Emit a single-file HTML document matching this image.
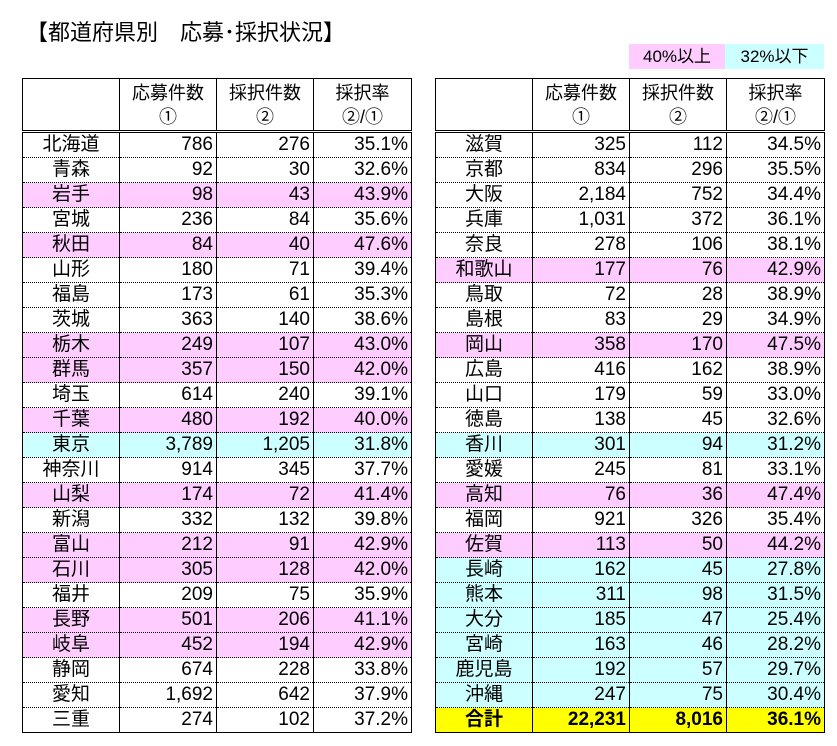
<!DOCTYPE html>
<html><head><meta charset="utf-8"><style>
body{margin:0;width:837px;height:746px;background:#fff;position:relative;font-family:"Liberation Sans","Noto Sans CJK JP",sans-serif;color:#000;overflow:hidden}
.title{position:absolute;left:26px;top:15px;font-size:22px;letter-spacing:0px}
.lg{position:absolute;top:44px;height:25px;line-height:25px;font-size:17px;text-align:center}
table{position:absolute;top:78px;border-collapse:collapse;table-layout:fixed;font-size:19px}
td{height:24px;padding:0 3px 0 0;border-left:1.5px solid #000;border-right:1.5px solid #000;border-bottom:1px dotted #000;text-align:right;line-height:24px;white-space:nowrap}
td:first-child{text-align:center;padding:0}
th{font-weight:normal;height:49px;border:1.5px solid #000;border-bottom:3px double #000;line-height:24px;font-size:18px;padding-top:1px}
tr:last-child td{border-bottom:1.5px solid #000}
.p td{background:#ffccff}.c td{background:#ccffff}.y td{background:#ffff00;font-weight:bold}
</style></head><body>
<div class="title">【都道府県別　応募･採択状況】</div>
<div class="lg" style="left:629px;width:96px;background:#ffccff">40%以上</div>
<div class="lg" style="left:725px;width:99px;background:#ccffff">32%以下</div>
<table style="left:22px;width:389px"><colgroup><col style="width:97px"><col style="width:97px"><col style="width:97px"><col style="width:98px"></colgroup>
<tr><th></th><th>応募件数<br>①</th><th>採択件数<br>②</th><th>採択率<br>②/①</th></tr>
<tr><td>北海道</td><td>786</td><td>276</td><td>35.1%</td></tr>
<tr><td>青森</td><td>92</td><td>30</td><td>32.6%</td></tr>
<tr class="p"><td>岩手</td><td>98</td><td>43</td><td>43.9%</td></tr>
<tr><td>宮城</td><td>236</td><td>84</td><td>35.6%</td></tr>
<tr class="p"><td>秋田</td><td>84</td><td>40</td><td>47.6%</td></tr>
<tr><td>山形</td><td>180</td><td>71</td><td>39.4%</td></tr>
<tr><td>福島</td><td>173</td><td>61</td><td>35.3%</td></tr>
<tr><td>茨城</td><td>363</td><td>140</td><td>38.6%</td></tr>
<tr class="p"><td>栃木</td><td>249</td><td>107</td><td>43.0%</td></tr>
<tr class="p"><td>群馬</td><td>357</td><td>150</td><td>42.0%</td></tr>
<tr><td>埼玉</td><td>614</td><td>240</td><td>39.1%</td></tr>
<tr class="p"><td>千葉</td><td>480</td><td>192</td><td>40.0%</td></tr>
<tr class="c"><td>東京</td><td>3,789</td><td>1,205</td><td>31.8%</td></tr>
<tr><td>神奈川</td><td>914</td><td>345</td><td>37.7%</td></tr>
<tr class="p"><td>山梨</td><td>174</td><td>72</td><td>41.4%</td></tr>
<tr><td>新潟</td><td>332</td><td>132</td><td>39.8%</td></tr>
<tr class="p"><td>富山</td><td>212</td><td>91</td><td>42.9%</td></tr>
<tr class="p"><td>石川</td><td>305</td><td>128</td><td>42.0%</td></tr>
<tr><td>福井</td><td>209</td><td>75</td><td>35.9%</td></tr>
<tr class="p"><td>長野</td><td>501</td><td>206</td><td>41.1%</td></tr>
<tr class="p"><td>岐阜</td><td>452</td><td>194</td><td>42.9%</td></tr>
<tr><td>静岡</td><td>674</td><td>228</td><td>33.8%</td></tr>
<tr><td>愛知</td><td>1,692</td><td>642</td><td>37.9%</td></tr>
<tr><td>三重</td><td>274</td><td>102</td><td>37.2%</td></tr>
</table>
<table style="left:435px;width:389px"><colgroup><col style="width:97px"><col style="width:97px"><col style="width:97px"><col style="width:98px"></colgroup>
<tr><th></th><th>応募件数<br>①</th><th>採択件数<br>②</th><th>採択率<br>②/①</th></tr>
<tr><td>滋賀</td><td>325</td><td>112</td><td>34.5%</td></tr>
<tr><td>京都</td><td>834</td><td>296</td><td>35.5%</td></tr>
<tr><td>大阪</td><td>2,184</td><td>752</td><td>34.4%</td></tr>
<tr><td>兵庫</td><td>1,031</td><td>372</td><td>36.1%</td></tr>
<tr><td>奈良</td><td>278</td><td>106</td><td>38.1%</td></tr>
<tr class="p"><td>和歌山</td><td>177</td><td>76</td><td>42.9%</td></tr>
<tr><td>鳥取</td><td>72</td><td>28</td><td>38.9%</td></tr>
<tr><td>島根</td><td>83</td><td>29</td><td>34.9%</td></tr>
<tr class="p"><td>岡山</td><td>358</td><td>170</td><td>47.5%</td></tr>
<tr><td>広島</td><td>416</td><td>162</td><td>38.9%</td></tr>
<tr><td>山口</td><td>179</td><td>59</td><td>33.0%</td></tr>
<tr><td>徳島</td><td>138</td><td>45</td><td>32.6%</td></tr>
<tr class="c"><td>香川</td><td>301</td><td>94</td><td>31.2%</td></tr>
<tr><td>愛媛</td><td>245</td><td>81</td><td>33.1%</td></tr>
<tr class="p"><td>高知</td><td>76</td><td>36</td><td>47.4%</td></tr>
<tr><td>福岡</td><td>921</td><td>326</td><td>35.4%</td></tr>
<tr class="p"><td>佐賀</td><td>113</td><td>50</td><td>44.2%</td></tr>
<tr class="c"><td>長崎</td><td>162</td><td>45</td><td>27.8%</td></tr>
<tr class="c"><td>熊本</td><td>311</td><td>98</td><td>31.5%</td></tr>
<tr class="c"><td>大分</td><td>185</td><td>47</td><td>25.4%</td></tr>
<tr class="c"><td>宮崎</td><td>163</td><td>46</td><td>28.2%</td></tr>
<tr class="c"><td>鹿児島</td><td>192</td><td>57</td><td>29.7%</td></tr>
<tr class="c"><td>沖縄</td><td>247</td><td>75</td><td>30.4%</td></tr>
<tr class="y"><td>合計</td><td>22,231</td><td>8,016</td><td>36.1%</td></tr>
</table>
</body></html>
